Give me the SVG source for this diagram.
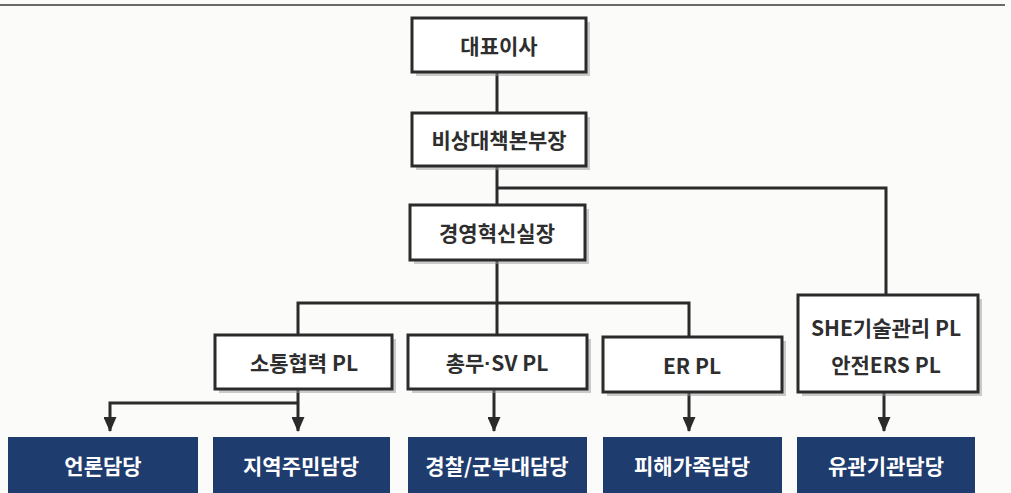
<svg xmlns="http://www.w3.org/2000/svg" width="1011" height="493" viewBox="0 0 1011 493">
<style>
.bg{fill:#fbfbfa}
.box{fill:#ffffff;stroke:#2b2b2b;stroke-width:3}
.shadow{fill:#9a9a9a;opacity:0.5}
.dark{fill:#1f3c6e}
.t{font-family:"Noto Sans CJK KR","Noto Sans",sans-serif;font-weight:700;font-size:21px;fill:#2e2e2e;text-anchor:middle;dominant-baseline:central}
.tw{font-family:"Noto Sans CJK KR","Noto Sans",sans-serif;font-weight:700;font-size:21px;fill:#ffffff;text-anchor:middle;dominant-baseline:central}
.ln{fill:none;stroke:#2b2b2b;stroke-width:3}
.dot{font-family:"Liberation Sans",sans-serif}
</style>
<defs>
<marker id="ah" markerWidth="15" markerHeight="13" refX="14" refY="6.5" orient="auto" markerUnits="userSpaceOnUse" viewBox="0 0 15 13">
<path d="M0,0 L15,6.5 L0,13 Z" fill="#2b2b2b"/>
</marker>
</defs>
<rect class="bg" x="0" y="0" width="1011" height="493"/>
<line x1="0" y1="5" x2="1005" y2="5" stroke="#6a6a6a" stroke-width="2"/>

<g id="connectors">
<line class="ln" x1="497" y1="72" x2="497" y2="113"/>
<line class="ln" x1="497" y1="166" x2="497" y2="205"/>
<polyline class="ln" points="497,188 886,188 886,295"/>
<line class="ln" x1="497" y1="260" x2="497" y2="335"/>
<polyline class="ln" points="298,335 298,303 689,303 689,337"/>
<polyline class="ln" points="298,389 298,431" marker-end="url(#ah)"/>
<polyline class="ln" points="298,403 110,403 110,431" marker-end="url(#ah)"/>
<polyline class="ln" points="494,389 494,431" marker-end="url(#ah)"/>
<polyline class="ln" points="689,392 689,431" marker-end="url(#ah)"/>
<polyline class="ln" points="884,392 884,431" marker-end="url(#ah)"/>
</g>

<g id="n-ceo">
<rect class="shadow" x="416" y="22" width="174" height="54"/>
<rect class="box" x="412" y="18" width="174" height="54"/>
<text class="t" x="499" y="45">대표이사</text>
</g>
<g id="n-emergency">
<rect class="shadow" x="416" y="117" width="174" height="53"/>
<rect class="box" x="412" y="113" width="174" height="53"/>
<text class="t" x="499" y="139">비상대책본부장</text>
</g>
<g id="n-innovation">
<rect class="shadow" x="414" y="209" width="175" height="55"/>
<rect class="box" x="410" y="205" width="175" height="55"/>
<text class="t" x="497" y="232">경영혁신실장</text>
</g>
<g id="n-comm">
<rect class="shadow" x="219" y="339" width="177" height="54"/>
<rect class="box" x="215" y="335" width="177" height="54"/>
<text class="t" x="304" y="362">소통협력 PL</text>
</g>
<g id="n-ga">
<rect class="shadow" x="412" y="339" width="179" height="54"/>
<rect class="box" x="408" y="335" width="179" height="54"/>
<text class="t" x="497" y="362">총무<tspan class="dot">·</tspan>SV PL</text>
</g>
<g id="n-er">
<rect class="shadow" x="607" y="341" width="179" height="55"/>
<rect class="box" x="603" y="337" width="179" height="55"/>
<text class="t" x="692" y="365">ER PL</text>
</g>
<g id="n-she">
<rect class="shadow" x="802" y="299" width="180" height="97"/>
<rect class="box" x="798" y="295" width="180" height="97"/>
<text class="t" x="886" y="327">SHE기술관리 PL</text>
<text class="t" x="886" y="364">안전ERS PL</text>
</g>
<g id="n-press">
<rect class="dark" x="8" y="437" width="190" height="60"/>
<text class="tw" x="103" y="465">언론담당</text>
</g>
<g id="n-residents">
<rect class="dark" x="213" y="437" width="177" height="60"/>
<text class="tw" x="301" y="465">지역주민담당</text>
</g>
<g id="n-police">
<rect class="dark" x="408" y="437" width="179" height="60"/>
<text class="tw" x="497" y="465">경찰/군부대담당</text>
</g>
<g id="n-families">
<rect class="dark" x="603" y="437" width="179" height="60"/>
<text class="tw" x="692" y="465">피해가족담당</text>
</g>
<g id="n-agencies">
<rect class="dark" x="797" y="437" width="178" height="60"/>
<text class="tw" x="886" y="465">유관기관담당</text>
</g>
</svg>
